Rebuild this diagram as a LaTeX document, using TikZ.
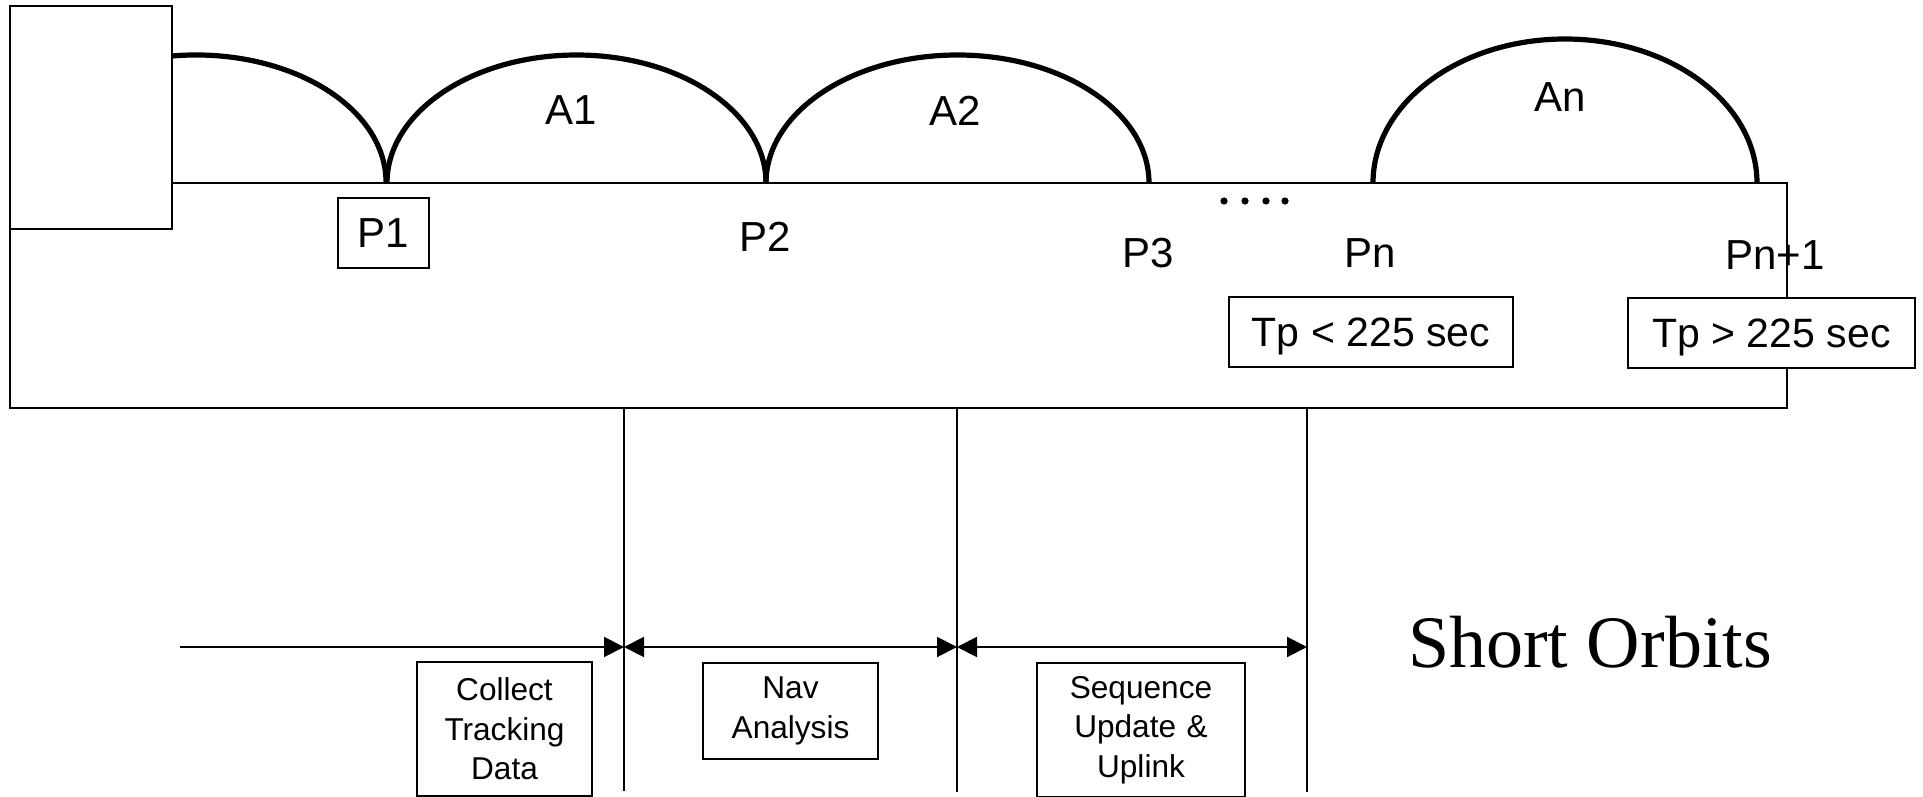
\documentclass[tikz,border=0pt]{standalone}
\usepackage{fontspec}
\setmainfont{Liberation Serif}
\newfontfamily\arial{Liberation Sans}
\usetikzlibrary{arrows.meta}
\begin{document}
\begin{tikzpicture}[x=0.5pt,y=-0.5pt,
  lbl/.style={font=\arial\fontsize{21}{25}\selectfont, inner sep=0pt},
  pbox/.style={draw, line width=0.7pt, fill=white, font=\arial\fontsize{21}{25}\selectfont, inner sep=0pt, text depth=0pt},
  tpbox/.style={draw, line width=0.7pt, fill=white, font=\arial\fontsize{20.5}{24}\selectfont, inner sep=0pt, text depth=0pt, minimum height=35pt},
  taskbox/.style={draw, line width=0.7pt, fill=white, font=\arial\fontsize{15.8}{19.8}\selectfont, align=center, inner sep=0pt, text width=86pt, minimum width=87.5pt},
  arch/.style={line width=2.6pt},
  frame/.style={line width=1pt},
  tickline/.style={line width=1pt},
  span/.style={line width=1pt, {Triangle[length=10pt,width=10pt]}-{Triangle[length=10pt,width=10pt]}},
  spanend/.style={line width=1pt, -{Triangle[length=10pt,width=10pt]}},
]
\useasboundingbox (0,0) rectangle (1923,797);

% main frame
\draw[frame] (10,183) rectangle (1787,408);
% small box at top left
\node[draw, frame, fill=white, minimum width=81pt, minimum height=111.5pt, inner sep=0pt] (sat) at (91,117.5) {};

% arches
\draw[arch] (172,56) arc[start angle=97.26, end angle=0, x radius=95pt, y radius=63.5pt];
\draw[arch] (387,183) arc[start angle=180, end angle=0, x radius=94.75pt, y radius=64pt];
\draw[arch] (766,183) arc[start angle=180, end angle=0, x radius=95.75pt, y radius=64pt];
\draw[arch] (1373,183) arc[start angle=180, end angle=0, x radius=96pt, y radius=72pt];

% arch labels
\node[lbl] (A1) at (571,110) {A1};
\node[lbl] (A2) at (955,111) {A2};
\node[lbl] (An) at (1560,97) {An};

% periapsis labels
\node[pbox, minimum width=45.5pt, minimum height=35pt] (P1) at (383.5,233) {P1};
\node[lbl] (P2) at (765,237) {P2};
\node[lbl] (P3) at (1148,253) {P3};
\node[lbl] (Pn) at (1370,253) {Pn};
\node[lbl] (Pn1) at (1775,255) {Pn+1};

% dots
\foreach \xx in {1224,1245,1266,1285} \fill (\xx,201) circle[radius=1.8pt];

% period boxes
\node[tpbox, minimum width=142pt] (tpless) at (1371,332) {Tp < 225 sec};
\node[tpbox, minimum width=143.5pt] (tpmore) at (1771.5,333) {Tp > 225 sec};

% vertical time ticks
\coordinate (v1t) at (624,408); \coordinate (v1b) at (624,791);
\coordinate (v2t) at (957,408); \coordinate (v2b) at (957,792);
\coordinate (v3t) at (1307,408); \coordinate (v3b) at (1307,792);
\draw[tickline] (v1t) -- (v1b);
\draw[tickline] (v2t) -- (v2b);
\draw[tickline] (v3t) -- (v3b);

% timeline arrows
\coordinate (a0) at (180,647);
\coordinate (a1) at (624,647);
\coordinate (a2) at (957,647);
\coordinate (a3) at (1307,647);
\draw[spanend] (a0) -- (a1);
\draw[span] (a1) -- (a2);
\draw[span] (a2) -- (a3);

% task boxes
\node[taskbox, minimum height=67pt] (collect) at (504.5,729) {Collect\\Tracking\\Data};
\node[taskbox, minimum height=48pt] (nav) at (790.5,711) {Nav\\Analysis};
\node[taskbox, text width=102pt, minimum width=104pt, minimum height=67pt] (seq) at (1141,730) {Sequence\\Update \&\\Uplink};

% title
\node[font=\fontsize{37}{40}\selectfont, inner sep=0pt, anchor=base] (title) at (1590,667) {Short Orbits};
\end{tikzpicture}
\end{document}
